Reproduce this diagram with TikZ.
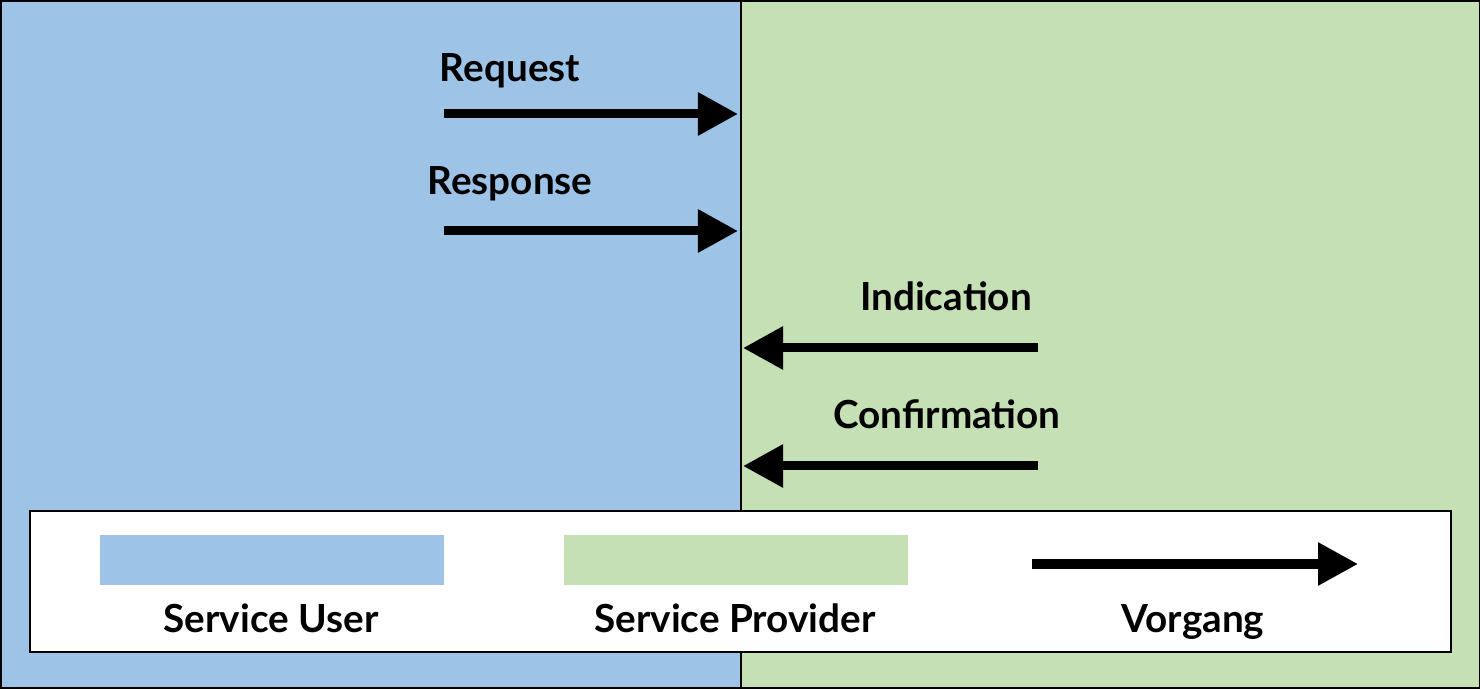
\documentclass[tikz,border=0pt]{standalone}
\usepackage{fontspec}
\setmainfont{Lato}
\usetikzlibrary{arrows.meta, positioning}

\definecolor{userblue}{RGB}{157,195,230}
\definecolor{providergreen}{RGB}{197,224,180}

\begin{document}
\begin{tikzpicture}[
            x = 0.01cm, y = -0.01cm, % one unit = one pixel, y downwards
            > = {Triangle[length=4mm, width=4.1mm]}, % arrow head style
            font = \fontsize{11}{13}\selectfont\bfseries
        ]

        \tikzstyle{area}=[
            inner sep = 0,
            outer sep = 0,
            anchor = north west
        ]
        \tikzstyle{swatch}=[
            inner sep = 0,
            minimum width = 3.44cm,
            minimum height = 0.5cm
        ]
        \tikzstyle{flow}=[
            ->,
            line width = 0.09cm
        ]
        \tikzstyle{lbl}=[
            anchor = base,
            inner sep = 0
        ]

        \useasboundingbox (0,0) rectangle (1480,689);

        % the two sides
        \node[area, fill=userblue, minimum width=7.41cm, minimum height=6.89cm] (U) at (0,0) {};
        \node[area, fill=providergreen, minimum width=7.39cm, minimum height=6.89cm] (P) at (U.north east) {};
        \draw[line width=0.04cm] (U.north west) rectangle (P.south east);
        \draw[line width=0.02cm] (U.north east) -- (U.south east);

        % service primitives
        \coordinate (reqS) at (444,114);
        \coordinate (reqE) at (738,114);
        \coordinate (resS) at (444,231);
        \coordinate (resE) at (738,231);
        \coordinate (indS) at (1038,348);
        \coordinate (indE) at (743,348);
        \coordinate (conS) at (1038,466);
        \coordinate (conE) at (743,466);

        \node[lbl] (req) at (510,82) {Request};
        \node[lbl] (res) at (510,195) {Response};
        \node[lbl] (ind) at (946,311) {Indication};
        \node[lbl] (con) at (947,429) {Confirmation};

        \draw[flow] (reqS) -- (reqE);
        \draw[flow] (resS) -- (resE);
        \draw[flow] (indS) -- (indE);
        \draw[flow] (conS) -- (conE);

        % legend
        \node[area, fill=white, draw=black, line width=0.6pt, minimum width=14.2cm, minimum height=1.41cm] (legend) at (30,511) {};
        \node[swatch, fill=userblue] (swU) at (272,560) {};
        \node[swatch, fill=providergreen] (swP) at (736,560) {};
        \coordinate (vgS) at (1032,564);
        \coordinate (vgE) at (1358,564);
        \draw[flow] (vgS) -- (vgE);

        \node[lbl] (lblU) at (271,632) {Service User};
        \node[lbl] (lblP) at (735,632) {Service Provider};
        \node[lbl] (lblV) at (1193,632) {Vorgang};
    \end{tikzpicture}
\end{document}
